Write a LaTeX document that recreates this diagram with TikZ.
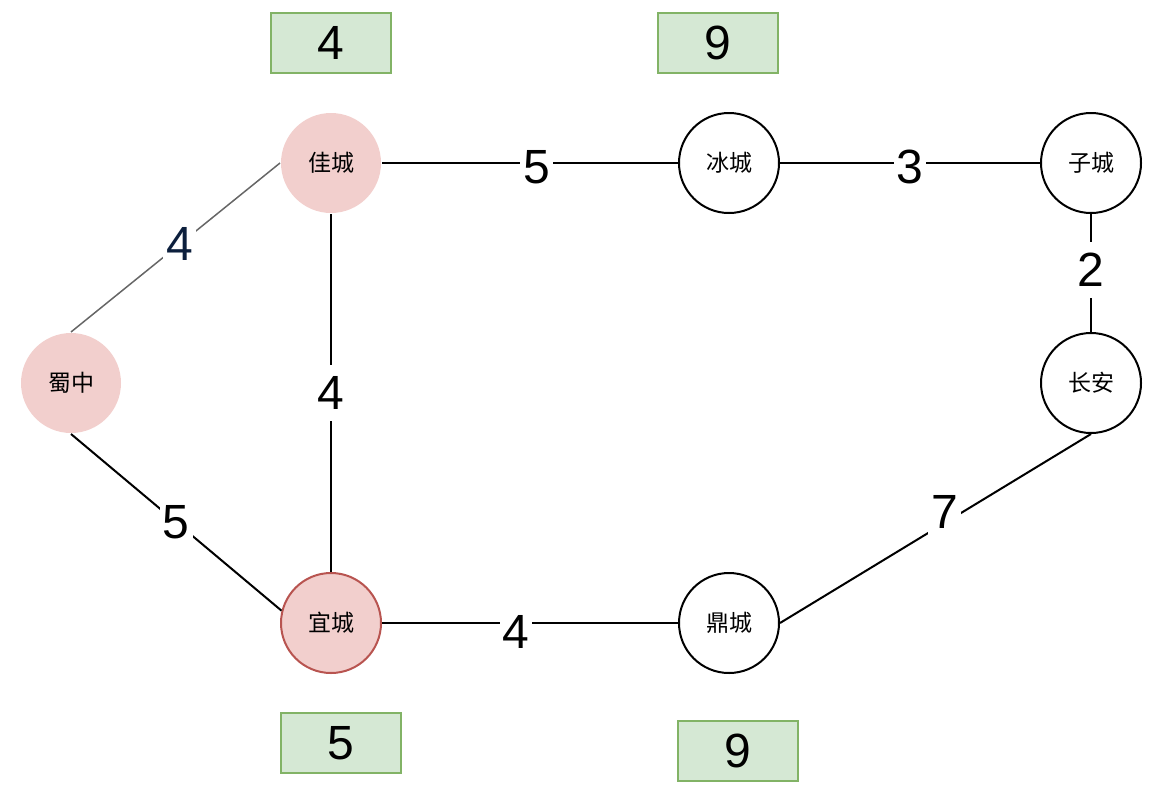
\documentclass[tikz,border=0pt]{standalone}
\usepackage{fontspec}
\setmainfont{Liberation Sans}
\newfontfamily\cjk{Noto Sans CJK SC}
\definecolor{pinkfill}{HTML}{F2CFCD}
\definecolor{redline}{HTML}{B85450}
\definecolor{greenfill}{HTML}{D5E8D4}
\definecolor{greenline}{HTML}{82B366}
\definecolor{grayline}{HTML}{666666}
\definecolor{navy}{HTML}{0C1F3D}
\begin{document}
\begin{tikzpicture}[x=1pt,y=-1pt,
  city/.style={circle, minimum size=100pt, inner sep=0pt, line width=2pt,
    font=\cjk\fontsize{23}{23}\selectfont},
  plain/.style={city, draw=black, fill=white},
  visited/.style={city, fill=pinkfill},
  distbox/.style={rectangle, minimum width=120pt, minimum height=60pt, inner sep=0pt,
    fill=greenfill, draw=greenline, line width=2pt, font=\fontsize{48}{48}\selectfont},
  edge/.style={line width=2pt, draw=black},
  lbl/.style={fill=white, inner xsep=3pt, inner ysep=11pt, font=\fontsize{48}{48}\selectfont}
]
\useasboundingbox (0,0) rectangle (1166,798);

% cities
\node[visited] (shu) at (71,383) {蜀中};
\node[visited] (jia) at (331,163) {佳城};
\node[visited, draw=redline, fill=pinkfill] (yi) at (331,623) {宜城};
\node[plain] (bing) at (729,163) {冰城};
\node[plain] (zi) at (1091,163) {子城};
\node[plain] (chang) at (1091,383) {长安};
\node[plain] (ding) at (729,623) {鼎城};

% distance boxes
\node[distbox] (djia) at (331,43) {4};
\node[distbox] (dbing) at (718,43) {9};
\node[distbox] (dyi) at (341,743) {5};
\node[distbox] (dding) at (738,751) {9};

% edges
\draw[line width=1.5pt, draw=grayline] (shu.north) -- node[lbl, text=navy, pos=0.52] (l1) {4} (jia.west);
\draw[edge] (shu.south) -- node[lbl, pos=0.5] (l2) {5} (yi.166);
\draw[edge] (jia.south) -- node[lbl, pos=0.5] (l3) {4} (yi.north);
\draw[edge] (jia.east) -- node[lbl, pos=0.523, yshift=-4pt] (l4) {5} (bing.west);
\draw[edge] (bing.east) -- node[lbl, pos=0.5, yshift=-4pt] (l5) {3} (zi.west);
\draw[edge] (zi.south) -- node[lbl, pos=0.475] (l6) {2} (chang.north);
\draw[edge] (chang.south) -- node[lbl, pos=0.47, yshift=11pt] (l7) {7} (ding.east);
\draw[edge] (yi.east) -- node[lbl, pos=0.453, yshift=-9pt] (l8) {4} (ding.west);
\end{tikzpicture}
\end{document}
